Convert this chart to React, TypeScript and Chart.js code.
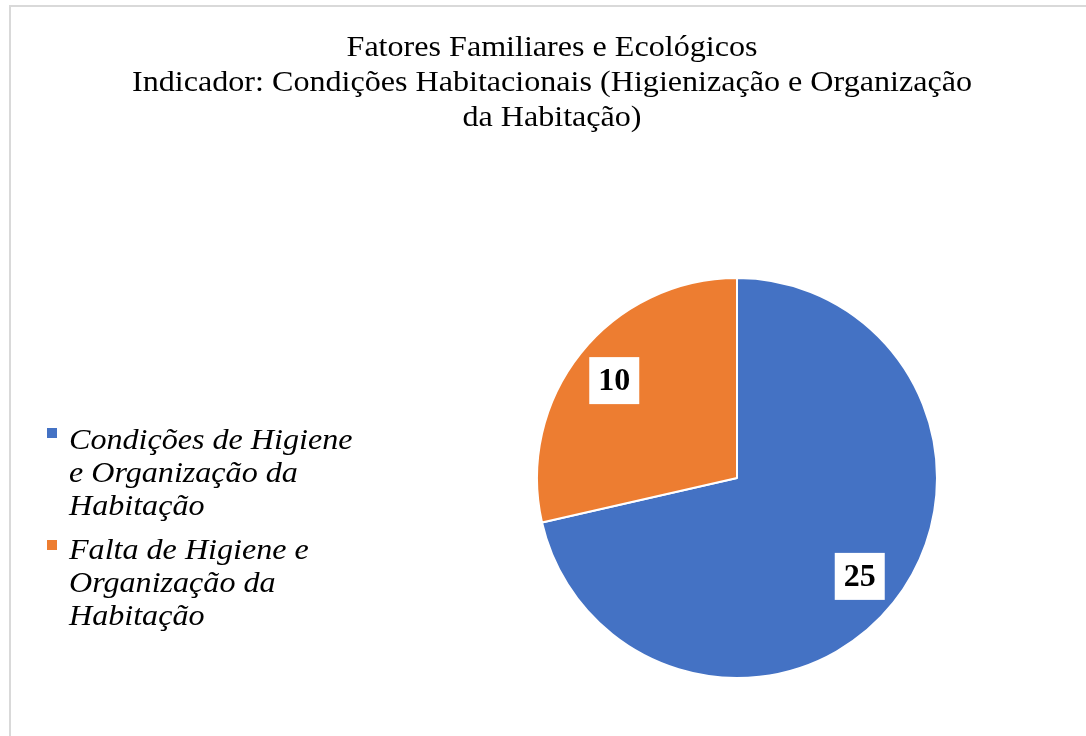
import React, { useEffect, useRef } from "react";
import { Chart, registerables } from "chart.js";

Chart.register(...registerables);

const titleLines = [
  "Fatores Familiares e Ecológicos",
  "Indicador: Condições Habitacionais (Higienização e Organização",
  "da Habitação)",
];
const categories = [
  "Condições de Higiene e Organização da Habitação",
  "Falta de Higiene e Organização da Habitação",
];
const legendLines = [
  ["Condições de Higiene", "e Organização da", "Habitação"],
  ["Falta de Higiene e", "Organização da", "Habitação"],
];
const values = [25, 10];
const colors = ["#4472C4", "#ED7D31"];

function drawScaled(ctx: any, text: string, x: number, y: number, sx: number) {
  ctx.save();
  ctx.translate(x, y);
  ctx.scale(sx, 1);
  ctx.fillText(text, 0, 0);
  ctx.restore();
}

const decorPlugin = {
  id: "decor",
  afterDraw(chart: any) {
    const ctx = chart.ctx;
    ctx.save();
    // title
    ctx.fillStyle = "#000";
    ctx.font = "30px 'Liberation Serif'";
    ctx.textAlign = "center";
    ctx.textBaseline = "alphabetic";
    const tBase = [49, 84, 119];
    titleLines.forEach((t, i) => drawScaled(ctx, t, 541, tBase[i], 1.07));

    // legend
    ctx.textAlign = "left";
    ctx.font = "italic 30px 'Liberation Serif'";
    const squareY = [421, 533];
    const baselines = [
      [442, 475, 508],
      [552, 585, 618],
    ];
    legendLines.forEach((lines, gi) => {
      ctx.fillStyle = colors[gi];
      ctx.fillRect(36, squareY[gi], 10, 10);
      ctx.fillStyle = "#000";
      lines.forEach((ln, li) => drawScaled(ctx, ln, 58, baselines[gi][li], 1.07));
    });

    // data labels
    const meta = chart.getDatasetMeta(0);
    ctx.font = "bold 32px 'Liberation Serif'";
    ctx.textAlign = "center";
    ctx.textBaseline = "middle";
    meta.data.forEach((arc: any, i: number) => {
      const p = arc.getProps(["x", "y", "startAngle", "endAngle", "outerRadius"], true);
      const mid = (p.startAngle + p.endAngle) / 2;
      const d = p.outerRadius * 0.785;
      const cx = p.x + Math.cos(mid) * d;
      const cy = p.y + Math.sin(mid) * d;
      const text = String(values[i]);
      ctx.fillStyle = "#fff";
      ctx.fillRect(cx - 25, cy - 23, 50, 47);
      ctx.fillStyle = "#000";
      ctx.fillText(text, cx, cy + 2);
    });
    ctx.restore();
  },
};

export default function App() {
  const ref = useRef<HTMLCanvasElement>(null);
  useEffect(() => {
    if (!ref.current) return;
    const chart = new Chart(ref.current, {
      type: "pie",
      data: {
        labels: categories,
        datasets: [
          {
            data: values,
            backgroundColor: colors,
            borderColor: "#fff",
            borderWidth: 2,
          },
        ],
      },
      options: {
        animation: false,
        responsive: false,
        maintainAspectRatio: false,
        layout: { padding: { left: 525, right: 155, top: 270, bottom: 57 } },
        plugins: {
          legend: { display: false },
          title: { display: false },
          tooltip: { enabled: false },
        },
      },
      plugins: [decorPlugin],
    });
    return () => chart.destroy();
  }, []);
  return (
    <div style={{ position: "fixed", left: 0, top: 0, width: 1086, height: 736, overflow: "hidden", background: "#fff" }}>
      <div
        style={{
          position: "absolute",
          left: 9,
          top: 5,
          width: 1200,
          height: 800,
          borderLeft: "2px solid #d9d9d9",
          borderTop: "2px solid #d9d9d9",
        }}
      />
      <canvas
        ref={ref}
        width={1082}
        height={729}
        style={{ position: "absolute", left: 11, top: 7, width: 1082, height: 729 }}
      />
    </div>
  );
}
